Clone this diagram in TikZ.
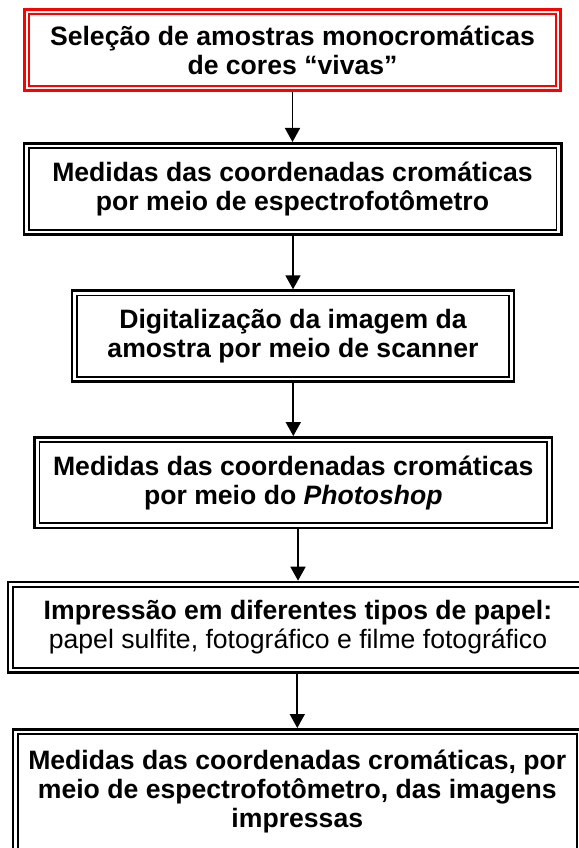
\documentclass[tikz,border=0pt]{standalone}
\usepackage{fontspec}
\setmainfont{Liberation Sans}
\usetikzlibrary{arrows.meta}

\begin{document}
\begin{tikzpicture}[x=1pt,y=-1pt,
  arr/.style={-{Triangle[width=15pt,length=14pt]},line width=1.8pt},
  box/.style={draw,line width=1.8pt,align=center,outer sep=6.1pt,inner sep=0pt,
    font=\fontsize{26.6}{29}\selectfont\bfseries},
  frame/.style={line width=2.6pt}]
  \useasboundingbox (0,0) rectangle (578,848);
  %% steps
  \node[box,draw=red,minimum width=526.8pt,minimum height=71.8pt] (sel) at (292.5,50)
    {Seleção de amostras monocromáticas\\de cores “vivas”};
  \node[box,minimum width=527.8pt,minimum height=81.8pt] (esp) at (292.5,189)
    {Medidas das coordenadas cromáticas\\por meio de espectrofotômetro};
  \node[box,minimum width=432.4pt,minimum height=81.2pt] (dig) at (293,336)
    {Digitalização da imagem da\\amostra por meio de scanner};
  \node[box,minimum width=507.8pt,minimum height=81.1pt] (pho) at (293.3,482.7)
    {Medidas das coordenadas cromáticas\\por meio do \textit{Photoshop}};
  \node[box,minimum width=570.4pt,minimum height=80.8pt] (imp) at (298,627.2)
    {Impressão em diferentes tipos de papel:\\{\mdseries papel sulfite, fotográfico e filme fotográfico}};
  \node[box,minimum width=559pt,minimum height=115pt] (med) at (297.3,791.6)
    {Medidas das coordenadas cromáticas, por\\meio de espectrofotômetro, das imagens\\impressas};
  %% outer frames
  \foreach \n/\c in {sel/red,esp/black,dig/black,pho/black,imp/black,med/black}
    \draw[frame,\c] ([shift={(1.3pt,-1.3pt)}]\n.north west) rectangle ([shift={(-1.3pt,1.3pt)}]\n.south east);
  %% arrows
  \foreach \a/\b in {sel/esp,esp/dig,dig/pho,pho/imp,imp/med}
    \draw[arr] (\a.south -| \b.north) -- (\b.north);
\end{tikzpicture}
\end{document}
